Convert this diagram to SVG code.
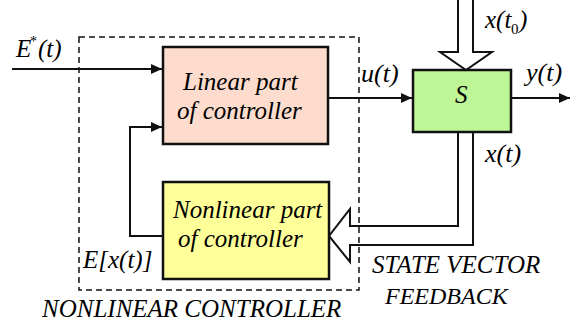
<svg xmlns="http://www.w3.org/2000/svg" width="574" height="325" viewBox="0 0 574 325">
<defs>
<style>
.box{stroke:#111;stroke-width:2.5}
.dash{fill:none;stroke:#111;stroke-width:1.5;stroke-dasharray:6 4}
</style>
<marker id="ah" markerWidth="12" markerHeight="10" refX="11" refY="5" orient="auto" markerUnits="userSpaceOnUse">
<path d="M0,0 L11,5 L0,10 Z" fill="#111"/>
</marker>
</defs>
<rect class="dash" x="79" y="37" width="280" height="253"/>
<g id="linear">
<rect class="box" x="163" y="47" width="165" height="97" fill="#fddccd"/>
<text x="183" y="90" font-family="Liberation Serif, Times New Roman, serif" font-size="25" font-style="italic">Linear part</text>
<text x="177" y="119" font-family="Liberation Serif, Times New Roman, serif" font-size="25" font-style="italic">of  controller</text>
</g>
<g id="nonlinear">
<rect class="box" x="163" y="182" width="166" height="97" fill="#ffff99"/>
<text x="173" y="218" font-family="Liberation Serif, Times New Roman, serif" font-size="25" font-style="italic">Nonlinear part</text>
<text x="178" y="247" font-family="Liberation Serif, Times New Roman, serif" font-size="25" font-style="italic">of  controller</text>
</g>
<g id="plant">
<rect class="box" x="413" y="70" width="98" height="62" fill="#bef597"/>
<text x="455" y="103" font-family="Liberation Serif, Times New Roman, serif" font-size="25" font-style="italic">S</text>
</g>
<g id="connectors" fill="none" stroke="#111" stroke-width="2">
<line x1="12" y1="69" x2="162" y2="69" marker-end="url(#ah)"/>
<polyline points="163,236 130,236 130,127 162,127" marker-end="url(#ah)"/>
<line x1="328" y1="98" x2="412" y2="98" marker-end="url(#ah)"/>
<line x1="511" y1="98" x2="570" y2="98" marker-end="url(#ah)"/>
<polyline points="458,0 458,52 440,52 466,70 492,52 473,52 473,0"/>
<polyline points="458,132 458,226 350,226 350,209 329,236 350,262 350,245 473,245 473,132"/>
</g>
<g id="labels">
<text x="16" y="57" font-family="Liberation Serif, Times New Roman, serif" font-size="25" font-style="italic">E</text>
<text x="30" y="46" font-family="Liberation Serif, Times New Roman, serif" font-size="14">*</text>
<text x="38" y="57" font-family="Liberation Serif, Times New Roman, serif" font-size="25" font-style="italic">(t)</text>
<text x="361" y="82" font-family="Liberation Serif, Times New Roman, serif" font-size="26" font-style="italic">u(t)</text>
<text x="526" y="81" font-family="Liberation Serif, Times New Roman, serif" font-size="26" font-style="italic">y(t)</text>
<text x="485" y="28" font-family="Liberation Serif, Times New Roman, serif" font-size="25" font-style="italic">x(t</text>
<text x="511" y="34" font-family="Liberation Serif, Times New Roman, serif" font-size="15">0</text>
<text x="519" y="28" font-family="Liberation Serif, Times New Roman, serif" font-size="25" font-style="italic">)</text>
<text x="485" y="162" font-family="Liberation Serif, Times New Roman, serif" font-size="26" font-style="italic">x(t)</text>
<text x="83" y="268" font-family="Liberation Serif, Times New Roman, serif" font-size="25" font-style="italic">E[x(t)]</text>
<text x="372" y="273" font-family="Liberation Serif, Times New Roman, serif" font-size="25" font-style="italic">STATE VECTOR</text>
<text x="385" y="304" font-family="Liberation Serif, Times New Roman, serif" font-size="24" font-style="italic">FEEDBACK</text>
<text x="42" y="317" font-family="Liberation Serif, Times New Roman, serif" font-size="25" font-style="italic">NONLINEAR CONTROLLER</text>
</g>
</svg>
